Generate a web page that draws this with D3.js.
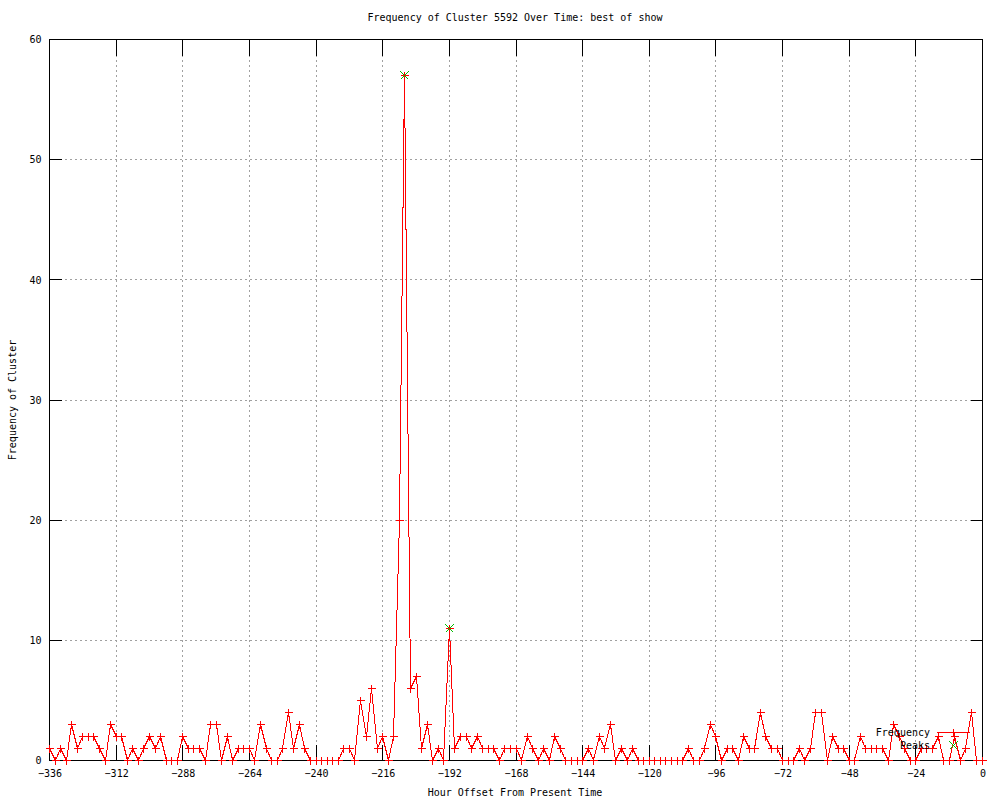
<!DOCTYPE html>
<html lang='en'>
<head>
  <meta charset='utf-8'>
  <title>Frequency of Cluster 5592</title>
  <script src='https://cdn.jsdelivr.net/npm/d3@7/dist/d3.min.js'></script>
  <style>
    body { margin: 0; background: #fff; }
    text { font-family: "DejaVu Sans Mono", monospace; font-size: 10px; fill: #000; }
  </style>
</head>
<body>
  <script>
    // hour offsets (every 2 hours) and cluster counts
    let hours = [
      -336, -334, -332, -330, -328, -326, -324, -322, -320, -318, -316, -314,
      -312, -310, -308, -306, -304, -302, -300, -298, -296, -294, -292, -290,
      -288, -286, -284, -282, -280, -278, -276, -274, -272, -270, -268, -266,
      -264, -262, -260, -258, -256, -254, -252, -250, -248, -246, -244, -242,
      -240, -238, -236, -234, -232, -230, -228, -226, -224, -222, -220, -218,
      -216, -214, -212, -210, -208, -206, -204, -202, -200, -198, -196, -194,
      -192, -190, -188, -186, -184, -182, -180, -178, -176, -174, -172, -170,
      -168, -166, -164, -162, -160, -158, -156, -154, -152, -150, -148, -146,
      -144, -142, -140, -138, -136, -134, -132, -130, -128, -126, -124, -122,
      -120, -118, -116, -114, -112, -110, -108, -106, -104, -102, -100, -98,
      -96, -94, -92, -90, -88, -86, -84, -82, -80, -78, -76, -74,
      -72, -70, -68, -66, -64, -62, -60, -58, -56, -54, -52, -50,
      -48, -46, -44, -42, -40, -38, -36, -34, -32, -30, -28, -26,
      -24, -22, -20, -18, -16, -14, -12, -10, -8, -6, -4, -2,
      0
    ];
    let counts = [
      1, 0, 1, 0, 3, 1, 2, 2, 2, 1, 0, 3,
      2, 2, 0, 1, 0, 1, 2, 1, 2, 0, 0, 0,
      2, 1, 1, 1, 0, 3, 3, 0, 2, 0, 1, 1,
      1, 0, 3, 1, 0, 0, 1, 4, 1, 3, 1, 0,
      0, 0, 0, 0, 0, 1, 1, 0, 5, 2, 6, 1,
      2, 0, 2, 20, 57, 6, 7, 1, 3, 0, 1, 0,
      11, 1, 2, 2, 1, 2, 1, 1, 1, 0, 1, 1,
      1, 0, 2, 1, 0, 1, 0, 2, 1, 0, 0, 0,
      0, 1, 0, 2, 1, 3, 0, 1, 0, 1, 0, 0,
      0, 0, 0, 0, 0, 0, 0, 1, 0, 0, 1, 3,
      2, 0, 1, 1, 0, 2, 1, 1, 4, 2, 1, 1,
      0, 0, 0, 1, 0, 1, 4, 4, 0, 2, 1, 1,
      0, 0, 2, 1, 1, 1, 1, 0, 3, 2, 1, 0,
      0, 1, 1, 1, 2, 0, 0, 2, 0, 1, 4, 0,
      0
    ];
    let peakHours = [-208, -192];
    let peakCounts = [57, 11];
    let xTicks = [-336, -312, -288, -264, -240, -216, -192, -168, -144, -120, -96, -72, -48, -24, 0];
    let yTicks = [0, 10, 20, 30, 40, 50, 60];

    let width = 1000, height = 800;
    let plot = { left: 49.5, right: 982.5, top: 39.5, bottom: 760.5 };

    let svg = d3.select("body").append("svg")
      .attr("width", width)
      .attr("height", height);

    let x = d3.scaleLinear().domain([-336, 0]).range([plot.left, plot.right]);
    let y = d3.scaleLinear().domain([0, 60]).range([plot.bottom, plot.top]);
    // snap to pixel centres so the 1px strokes stay sharp
    let px = v => Math.floor(x(v)) + 0.5;
    let py = v => Math.floor(y(v)) + 0.5;

    // grid
    let grid = svg.append("g")
      .attr("stroke", "#a0a0a0")
      .attr("stroke-dasharray", "2,3")
      .attr("shape-rendering", "crispEdges");
    grid.selectAll(".vg").data(xTicks.slice(1, -1)).join("line")
      .attr("x1", d => px(d)).attr("x2", d => px(d))
      .attr("y1", plot.top).attr("y2", plot.bottom);
    grid.selectAll(".hg").data(yTicks.slice(1, -1)).join("line")
      .attr("x1", plot.left).attr("x2", plot.right)
      .attr("y1", d => py(d)).attr("y2", d => py(d));

    // axes with inward ticks on all four sides
    let axes = svg.append("g").attr("shape-rendering", "crispEdges");
    let xAxis = d3.axisBottom(x).tickValues(xTicks).tickSize(0).tickPadding(9);
    axes.append("g").attr("transform", `translate(0,${plot.bottom})`).call(xAxis)
      .call(g => g.select(".domain").remove());
    let yAxis = d3.axisLeft(y).tickValues(yTicks).tickSize(0).tickPadding(8);
    axes.append("g").attr("transform", `translate(${plot.left},0)`).call(yAxis)
      .call(g => g.select(".domain").remove());
    axes.selectAll(".tick text").style("font-family", "DejaVu Sans Mono").style("font-size", "10px");

    let ticks = axes.append("g").attr("stroke", "#000");
    ticks.selectAll(".xb").data(xTicks).join("line")
      .attr("x1", d => px(d)).attr("x2", d => px(d))
      .attr("y1", plot.bottom).attr("y2", plot.bottom - 16);
    ticks.selectAll(".xt").data(xTicks).join("line")
      .attr("x1", d => px(d)).attr("x2", d => px(d))
      .attr("y1", plot.top).attr("y2", plot.top + 16);
    ticks.selectAll(".yl").data(yTicks).join("line")
      .attr("x1", plot.left).attr("x2", plot.left + 12)
      .attr("y1", d => py(d)).attr("y2", d => py(d));
    ticks.selectAll(".yr").data(yTicks).join("line")
      .attr("x1", plot.right).attr("x2", plot.right - 12)
      .attr("y1", d => py(d)).attr("y2", d => py(d));
    axes.append("rect")
      .attr("x", plot.left).attr("y", plot.top)
      .attr("width", plot.right - plot.left).attr("height", plot.bottom - plot.top)
      .attr("fill", "none").attr("stroke", "#000");

    let series = hours.map((h, i) => ({ h: h, c: counts[i] }));
    let peaks = peakHours.map((h, i) => ({ h: h, c: peakCounts[i] }));

    let xMark = (cx, cy, s) => `M${cx - s},${cy - s}L${cx + s},${cy + s}M${cx - s},${cy + s}L${cx + s},${cy - s}`;
    let plusMark = (cx, cy, s) => `M${cx - s},${cy}H${cx + s}M${cx},${cy - s}V${cy + s}`;

    // frequency line + markers
    let line = d3.line().x(d => px(d.h)).y(d => py(d.c));
    svg.append("path").datum(series)
      .attr("d", line)
      .attr("fill", "none").attr("stroke", "#ff0000")
      .attr("shape-rendering", "crispEdges");
    svg.append("g").selectAll("path").data(series).join("path")
      .attr("d", d => plusMark(px(d.h), py(d.c), 4))
      .attr("stroke", "#ff0000").attr("fill", "none")
      .attr("shape-rendering", "crispEdges");

    // peaks: green x over the red +
    svg.append("g").selectAll("path").data(peaks).join("path")
      .attr("d", d => xMark(px(d.h), py(d.c), 4))
      .attr("stroke", "#00c000").attr("fill", "none")
      .attr("shape-rendering", "crispEdges");

    // legend
    let legend = svg.append("g");
    legend.append("text").attr("x", 930).attr("y", 733)
      .attr("text-anchor", "end").attr("dominant-baseline", "middle").text("Frequency");
    legend.append("line").attr("x1", 937).attr("x2", 970).attr("y1", 732.5).attr("y2", 732.5)
      .attr("stroke", "#ff0000").attr("shape-rendering", "crispEdges");
    legend.append("path").attr("d", plusMark(953.5, 732.5, 4))
      .attr("stroke", "#ff0000").attr("fill", "none").attr("shape-rendering", "crispEdges");
    legend.append("text").attr("x", 930).attr("y", 746)
      .attr("text-anchor", "end").attr("dominant-baseline", "middle").text("Peaks");
    legend.append("path").attr("d", xMark(953.5, 745.5, 4))
      .attr("stroke", "#00c000").attr("fill", "none").attr("shape-rendering", "crispEdges");

    // titles
    svg.append("text").attr("x", 515).attr("y", 18)
      .attr("text-anchor", "middle").attr("dominant-baseline", "middle")
      .text("Frequency of Cluster 5592 Over Time: best of show");
    svg.append("text").attr("x", 515).attr("y", 793)
      .attr("text-anchor", "middle").attr("dominant-baseline", "middle")
      .text("Hour Offset From Present Time");
    svg.append("text")
      .attr("transform", "translate(13,400) rotate(-90)")
      .attr("text-anchor", "middle").attr("dominant-baseline", "middle")
      .text("Frequency of Cluster");
  </script>
</body>
</html>
